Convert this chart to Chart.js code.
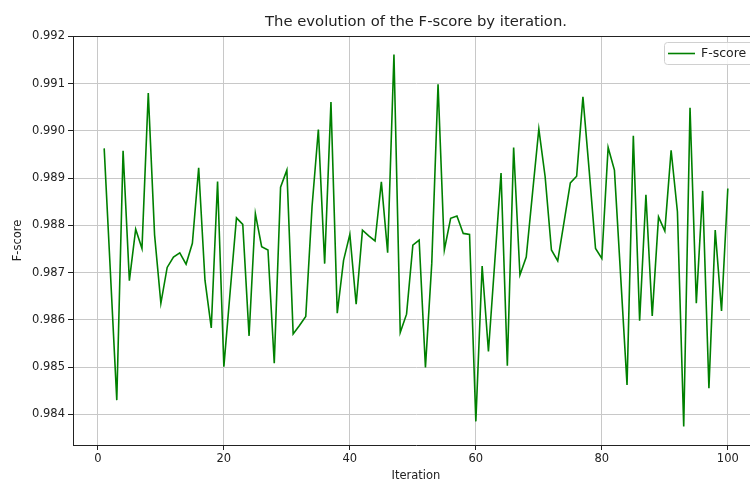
<!DOCTYPE html>
<html>
<head>
<meta charset="utf-8">
<script src="https://cdn.jsdelivr.net/npm/chart.js@4"></script>
<style>
  html, body { margin: 0; padding: 0; background: #fff; overflow: hidden; }
  #wrap { width: 762px; height: 482px; }
</style>
</head>
<body>
<div id="wrap"><canvas id="chart" width="762" height="482"></canvas></div>
<script>
const chartTitle = 'The evolution of the F-score by iteration.';
const seriesLabel = 'F-score';
const xTicks = [0, 20, 40, 60, 80, 100];
const yTicks = [0.984, 0.985, 0.986, 0.987, 0.988, 0.989, 0.990, 0.991, 0.992];

// iteration number = position in the list (1..100)
const fscores = [
  0.98963, 0.98697, 0.98430, 0.98958, 0.98683, 0.98792, 0.98751, 0.99080, 0.98780, 0.98635,
  0.98711, 0.98733, 0.98742, 0.98718, 0.98762, 0.98922, 0.98684, 0.98583, 0.98893, 0.98501,
  0.98660, 0.98816, 0.98802, 0.98566, 0.98825, 0.98755, 0.98748, 0.98508, 0.98881, 0.98917,
  0.98570, 0.98588, 0.98607, 0.98840, 0.99003, 0.98719, 0.99061, 0.98614, 0.98726, 0.98781,
  0.98633, 0.98790, 0.98778, 0.98767, 0.98892, 0.98742, 0.99162, 0.98573, 0.98612, 0.98758,
  0.98769, 0.98499, 0.98719, 0.99099, 0.98748, 0.98815, 0.98820, 0.98783, 0.98781, 0.98385,
  0.98714, 0.98533, 0.98722, 0.98911, 0.98503, 0.98965, 0.98695, 0.98733, 0.98869, 0.99004,
  0.98903, 0.98748, 0.98725, 0.98807, 0.98890, 0.98904, 0.99072, 0.98915, 0.98751, 0.98730,
  0.98965, 0.98917, 0.98690, 0.98462, 0.98990, 0.98598, 0.98865, 0.98608, 0.98818, 0.98788,
  0.98959, 0.98829, 0.98374, 0.99049, 0.98635, 0.98873, 0.98455, 0.98790, 0.98619, 0.98878
];
const iterations = fscores.map((_, i) => i + 1);

const FONT = '"DejaVu Sans", sans-serif';
const TEXT = '#222';
const GRID = '#c8c8c8';

// title, top spine and the legend box (matplotlib look)
const extras = {
  id: 'extras',
  afterDraw(chart) {
    const { ctx, chartArea: a } = chart;
    ctx.save();
    ctx.strokeStyle = TEXT;
    ctx.lineWidth = 1;
    ctx.beginPath();
    ctx.moveTo(a.left, Math.round(a.top) + 0.5);
    ctx.lineTo(a.right, Math.round(a.top) + 0.5);
    ctx.stroke();

    ctx.fillStyle = TEXT;
    ctx.font = '14.8px ' + FONT;
    ctx.textAlign = 'center';
    ctx.textBaseline = 'middle';
    ctx.fillText(chartTitle, (a.left + a.right) / 2, 22);

    // legend
    const ds = chart.data.datasets[0];
    const bx = 664, by = 42, bw = 100, bh = 22;
    ctx.fillStyle = 'rgba(255,255,255,0.85)';
    ctx.strokeStyle = '#d0d0d0';
    ctx.beginPath();
    ctx.roundRect(bx + 0.5, by + 0.5, bw, bh, 3);
    ctx.fill();
    ctx.stroke();
    ctx.strokeStyle = ds.borderColor;
    ctx.lineWidth = 1.6;
    ctx.beginPath();
    ctx.moveTo(668, 53.5);
    ctx.lineTo(695, 53.5);
    ctx.stroke();
    ctx.fillStyle = TEXT;
    ctx.font = '12.5px ' + FONT;
    ctx.textAlign = 'left';
    ctx.fillText(ds.label, 701, 54);
    ctx.restore();
  }
};

new Chart(document.getElementById('chart'), {
  type: 'line',
  data: {
    datasets: [{
      label: seriesLabel,
      data: iterations.map((it, i) => ({ x: it, y: fscores[i] })),
      borderColor: '#008000',
      borderWidth: 1.6,
      pointRadius: 0,
      tension: 0,
      fill: false
    }]
  },
  options: {
    responsive: false,
    animation: false,
    layout: { padding: { top: 36, right: 3, left: 0, bottom: 0 } },
    plugins: {
      legend: { display: false },
      title: { display: false },
      tooltip: { enabled: false }
    },
    scales: {
      x: {
        type: 'linear',
        min: -3.95,
        max: 104.95,
        afterBuildTicks: s => { s.ticks = xTicks.map(v => ({ value: v })); },
        afterFit: s => { s.height = 37; },
        ticks: {
          color: TEXT,
          font: { family: FONT, size: 11.5 },
          padding: 2,
          maxRotation: 0,
          callback: v => String(v)
        },
        grid: { color: GRID, lineWidth: 1, tickLength: 5, tickColor: TEXT, drawTicks: true },
        border: { display: true, color: TEXT, width: 1 },
        title: {
          display: true,
          text: 'Iteration',
          color: TEXT,
          font: { family: FONT, size: 11.5, lineHeight: 1.0 },
          padding: { top: 0, bottom: 0 }
        }
      },
      y: {
        min: 0.98335,
        max: 0.99201,
        afterBuildTicks: s => { s.ticks = yTicks.map(v => ({ value: v })); },
        afterFit: s => { s.width = 73; },
        ticks: {
          color: TEXT,
          font: { family: FONT, size: 11.5 },
          padding: 3,
          callback: v => Number(v).toFixed(3)
        },
        grid: { color: GRID, lineWidth: 1, tickLength: 5, tickColor: TEXT, drawTicks: true },
        border: { display: true, color: TEXT, width: 1 },
        title: {
          display: true,
          text: 'F-score',
          color: TEXT,
          font: { family: FONT, size: 11.5 },
          padding: { top: 11, bottom: 0 }
        }
      }
    }
  },
  plugins: [extras]
});
</script>
</body>
</html>
